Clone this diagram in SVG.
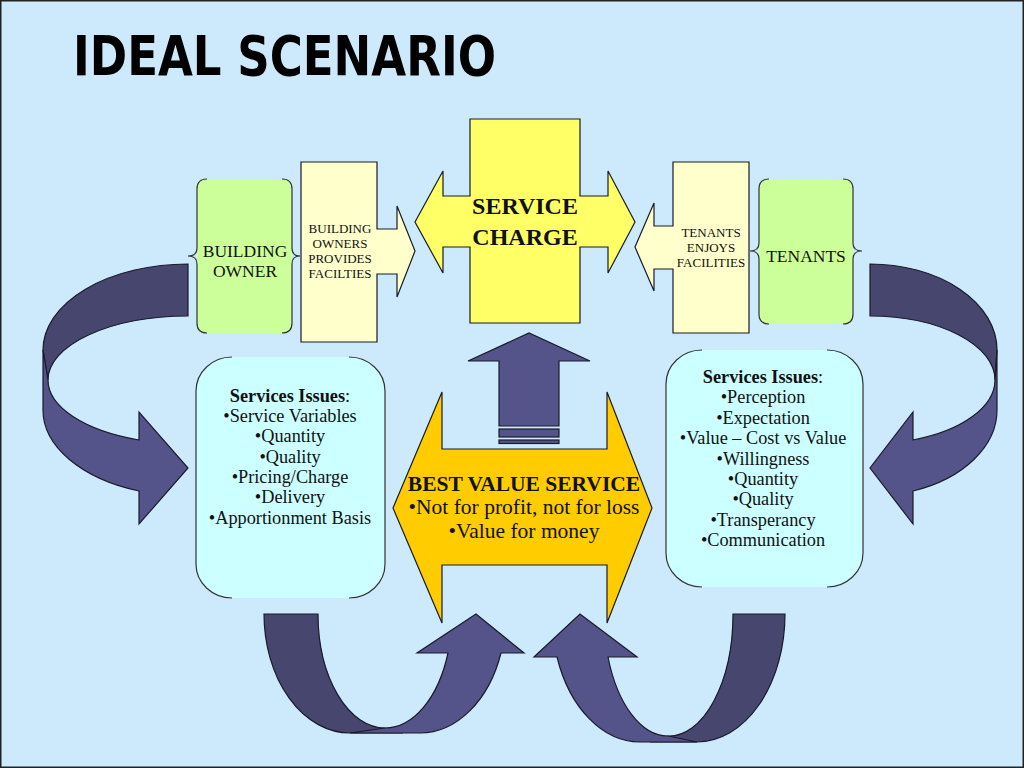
<svg xmlns="http://www.w3.org/2000/svg" width="1024" height="768" viewBox="0 0 1024 768">
<style>
.ol{stroke:#1a1a2a;stroke-width:1.2;stroke-linejoin:miter}
.dark{fill:#46466F}
.light{fill:#54548A}
.t{font-family:"Liberation Serif","Times New Roman",serif;fill:#111;text-anchor:middle}
.sm{font-size:13px}
.md{font-size:17.5px}
.li{font-size:18.3px}
.bv{font-size:21.5px}
.b{font-weight:bold}
.title{font-family:"DejaVu Sans","Liberation Sans",sans-serif;font-weight:bold;font-size:56px;fill:#000}
</style>
<rect x="0.75" y="0.75" width="1022.5" height="766.5" fill="#CCEAFB" stroke="#222" stroke-width="1.5"/>
<text class="title" x="73" y="75" textLength="423" lengthAdjust="spacingAndGlyphs">IDEAL SCENARIO</text>

<g id="connectors">
  <!-- left curved arrow -->
  <path class="dark ol" d="M188,264 A145,86 0 0 0 43,350 L48,380 A140,64 0 0 1 188,316 Z"/>
  <path class="light ol" d="M43,350 L43,410 A145,86 0 0 0 139,491 L139,524 L188,468 L139,412 L139,440 A140,64 0 0 1 48,380 Z"/>
  <!-- right curved arrow -->
  <path class="dark ol" d="M870,264 A127,86 0 0 1 997,350 L995,380 A125,64 0 0 0 870,316 Z"/>
  <path class="light ol" d="M997,350 L997,410 A127,86 0 0 1 913,491 L913,524 L870,468 L913,412 L913,440 A125,64 0 0 0 995,380 Z"/>
  <!-- bottom-left curved up arrow -->
  <path class="dark ol" d="M264,614 L318,614 A67,114 0 0 0 385,728 L403,733 L350,733 A86,119 0 0 1 264,614 Z"/>
  <path class="light ol" d="M350,733 L420,733 A86,119 0 0 0 501,653 L524,653 L476,614 L417,653 L448,653 A67,114 0 0 1 385,728 Z"/>
  <!-- bottom-right curved up arrow -->
  <path class="dark ol" d="M785,614 L733,614 A64,122 0 0 1 668,736 L650,742 L697,742 A88,128 0 0 0 785,614 Z"/>
  <path class="light ol" d="M697,742 L640,742 A88,128 0 0 1 557,657 L534,657 L580,614 L637,657 L608,657 A64,122 0 0 0 668,736 Z"/>
  <!-- up arrow to service charge -->
  <path class="light ol" d="M499,426 L499,361 L468,361 L529,333 L590,361 L559,361 L559,426 Z"/>
  <rect class="light ol" x="499" y="429" width="60" height="8"/>
  <rect class="light ol" x="499" y="440" width="60" height="3.5"/>
</g>

<g id="building-owner">
  <path d="M207,179 H282 Q292,179 292,189 V323 Q292,333 282,333 H207 Q197,333 197,323 V189 Q197,179 207,179 Z" fill="#CCFF99"/>
  <path d="M207,179 Q197,179 197,189 V248 Q197,256 188,256 Q197,256 197,264 V323 Q197,333 207,333" fill="none" stroke="#333" stroke-width="1.2"/>
  <path d="M282,179 Q292,179 292,189 V248 Q292,256 300,256 Q292,256 292,264 V323 Q292,333 282,333" fill="none" stroke="#333" stroke-width="1.2"/>
  <text class="t md" x="245" y="257">BUILDING</text>
  <text class="t md" x="245" y="277">OWNER</text>
</g>

<g id="owners-provide">
  <path class="ol" fill="#FFFFCC" stroke="#444" d="M301,162 H377 V229 H397 V206 L415,251 L397,297 V274 H377 V342 H301 Z"/>
  <text class="t sm" x="340" y="233">BUILDING</text>
  <text class="t sm" x="340" y="248">OWNERS</text>
  <text class="t sm" x="340" y="263">PROVIDES</text>
  <text class="t sm" x="340" y="278">FACILTIES</text>
</g>

<g id="service-charge">
  <path class="ol" fill="#FFFF66" d="M470,119 H580 V196 H608 V171 L635,222 L608,273 V247 H580 V323 H470 V247 H443 V273 L415,222 L443,171 V196 H470 Z"/>
  <text class="t b" style="font-size:24px" x="525" y="214">SERVICE</text>
  <text class="t b" style="font-size:24px" x="525" y="245">CHARGE</text>
</g>

<g id="tenants-enjoy">
  <path class="ol" fill="#FFFFCC" stroke="#444" d="M673,162 H749 V333 H673 V269 H654 V291 L635,247 L654,203 V226 H673 Z"/>
  <text class="t sm" x="711" y="237">TENANTS</text>
  <text class="t sm" x="711" y="252">ENJOYS</text>
  <text class="t sm" x="711" y="267">FACILITIES</text>
</g>

<g id="tenants">
  <path d="M769,179 H843 Q853,179 853,189 V314 Q853,324 843,324 H769 Q759,324 759,314 V189 Q759,179 769,179 Z" fill="#CCFF99"/>
  <path d="M769,179 Q759,179 759,189 V243 Q759,251 750,251 Q759,251 759,259 V314 Q759,324 769,324" fill="none" stroke="#333" stroke-width="1.2"/>
  <path d="M843,179 Q853,179 853,189 V243 Q853,251 862,251 Q853,251 853,259 V314 Q853,324 843,324" fill="none" stroke="#333" stroke-width="1.2"/>
  <text class="t md" x="806" y="262">TENANTS</text>
</g>

<g id="owner-issues">
  <rect x="196" y="357" width="189" height="241" rx="34" ry="34" fill="#CCFFFF"/>
  <path d="M232,357 A36,34 0 0 0 196,391 V564 A36,34 0 0 0 232,598" fill="none" stroke="#333" stroke-width="1.2"/>
  <path d="M349,357 A36,34 0 0 1 385,391 V564 A36,34 0 0 1 349,598" fill="none" stroke="#333" stroke-width="1.2"/>
  <text class="t li" x="290" y="402"><tspan class="b">Services Issues</tspan>:</text>
  <text class="t li" x="290" y="422">•Service Variables</text>
  <text class="t li" x="290" y="442">•Quantity</text>
  <text class="t li" x="290" y="463">•Quality</text>
  <text class="t li" x="290" y="483">•Pricing/Charge</text>
  <text class="t li" x="290" y="503">•Delivery</text>
  <text class="t li" x="290" y="524">•Apportionment Basis</text>
</g>

<g id="tenant-issues">
  <rect x="666" y="350" width="197" height="237" rx="34" ry="34" fill="#CCFFFF"/>
  <path d="M702,350 A36,34 0 0 0 666,384 V553 A36,34 0 0 0 702,587" fill="none" stroke="#333" stroke-width="1.2"/>
  <path d="M827,350 A36,34 0 0 1 863,384 V553 A36,34 0 0 1 827,587" fill="none" stroke="#333" stroke-width="1.2"/>
  <text class="t li" x="763" y="383"><tspan class="b">Services Issues</tspan>:</text>
  <text class="t li" x="763" y="403">•Perception</text>
  <text class="t li" x="763" y="424">•Expectation</text>
  <text class="t li" x="763" y="444">•Value – Cost vs Value</text>
  <text class="t li" x="763" y="465">•Willingness</text>
  <text class="t li" x="763" y="485">•Quantity</text>
  <text class="t li" x="763" y="505">•Quality</text>
  <text class="t li" x="763" y="526">•Transperancy</text>
  <text class="t li" x="763" y="546">•Communication</text>
</g>

<g id="best-value">
  <path class="ol" fill="#FFCC00" d="M442,392 V449 H607 V392 L652,508 L607,623 V565 H442 V623 L393,508 Z"/>
  <text class="t b bv" x="524" y="491">BEST VALUE SERVICE</text>
  <text class="t bv" x="524" y="514">•Not for profit, not for loss</text>
  <text class="t bv" x="524" y="538">•Value for money</text>
</g>
</svg>
